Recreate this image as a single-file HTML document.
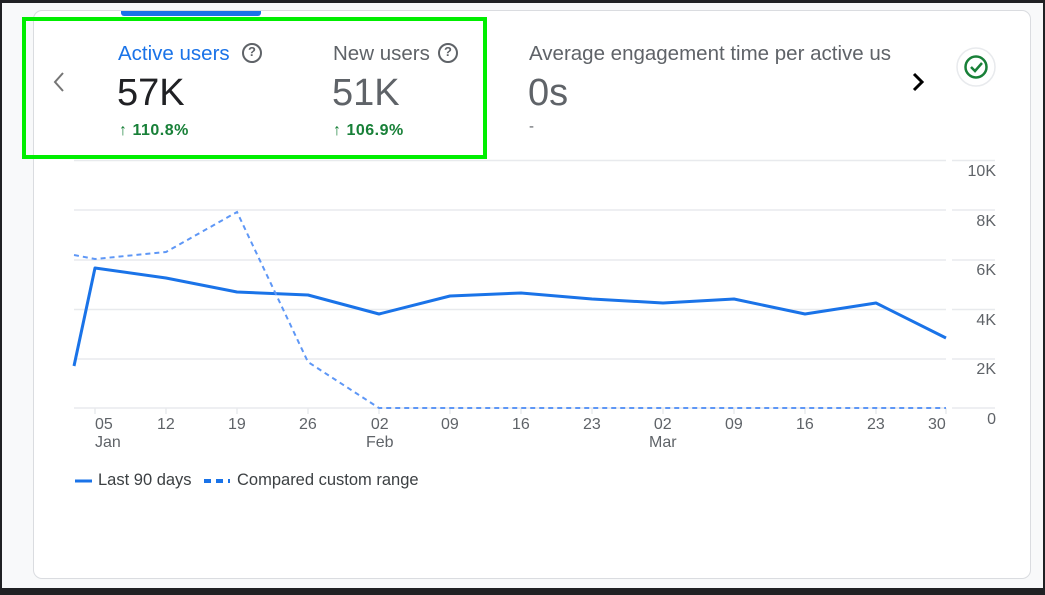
<!DOCTYPE html>
<html><head><meta charset="utf-8"><style>
html,body{margin:0;padding:0;}
body{width:1045px;height:595px;background:#202124;position:relative;overflow:hidden;font-family:"Liberation Sans",sans-serif;}
#bg{position:absolute;left:2px;top:3px;width:1041px;height:585px;background:#f8f9fa;}
#card{position:absolute;left:33px;top:10px;width:996px;height:567px;background:#fff;border:1px solid #dadce0;border-radius:9px;}
.t{position:absolute;white-space:nowrap;}
</style></head><body>
<div id="bg"></div>
<div id="card"></div>
<div style="position:absolute;left:121px;top:11px;width:140px;height:5px;background:#1a73e8;border-radius:0 0 3px 3px"></div>
<svg width="1045" height="595" style="position:absolute;left:0;top:0">
<g stroke="#e8eaed" stroke-width="1.5">
<line x1="74" y1="160.5" x2="946" y2="160.5"/><line x1="952" y1="160.5" x2="995" y2="160.5"/>
<line x1="74" y1="210" x2="946" y2="210"/><line x1="952" y1="210" x2="995" y2="210"/>
<line x1="74" y1="260" x2="946" y2="260"/><line x1="952" y1="260" x2="995" y2="260"/>
<line x1="74" y1="309.5" x2="946" y2="309.5"/><line x1="952" y1="309.5" x2="995" y2="309.5"/>
<line x1="74" y1="359" x2="946" y2="359"/><line x1="952" y1="359" x2="995" y2="359"/>
<line x1="74" y1="408" x2="946" y2="408"/><line x1="952" y1="408" x2="995" y2="408"/>
<line x1="95" y1="408" x2="95" y2="414"/><line x1="166" y1="408" x2="166" y2="414"/><line x1="237" y1="408" x2="237" y2="414"/><line x1="308" y1="408" x2="308" y2="414"/><line x1="379" y1="408" x2="379" y2="414"/><line x1="450" y1="408" x2="450" y2="414"/><line x1="521" y1="408" x2="521" y2="414"/><line x1="592" y1="408" x2="592" y2="414"/><line x1="663" y1="408" x2="663" y2="414"/><line x1="734" y1="408" x2="734" y2="414"/><line x1="805" y1="408" x2="805" y2="414"/><line x1="876" y1="408" x2="876" y2="414"/><line x1="946" y1="408" x2="946" y2="414"/>
</g>
<polyline fill="none" stroke="#1a73e8" stroke-width="3" stroke-linejoin="round" points="74,366 95,268 166,278 237,292 308,295 379,314 450,296 521,293 592,299 663,303 734,299 805,314 876,303 946,338"/>
<polyline fill="none" stroke="#5e97f6" stroke-width="2" stroke-dasharray="5,4" points="74,255 95,259 166,252 237,212 308,362 379,408 946,408"/>
<rect x="24" y="19" width="461" height="138" fill="none" stroke="#00ee00" stroke-width="4"/>
<polyline fill="none" stroke="#757575" stroke-width="2" points="63,73 55,82 63,91"/>
<polyline fill="none" stroke="#000" stroke-width="3" points="914,74 922,82 914,90"/>
<circle cx="976" cy="67" r="19" fill="#fff" stroke="#e8eaed" stroke-width="1.5"/>
<circle cx="976" cy="67" r="10.5" fill="none" stroke="#188038" stroke-width="2.5"/>
<polyline fill="none" stroke="#188038" stroke-width="2.5" points="971,67 975,71 982,63"/>
<g fill="none" stroke="#5f6368" stroke-width="2"><circle cx="252" cy="53" r="9"/><circle cx="448" cy="53" r="9"/></g>
<line x1="75" y1="481" x2="92" y2="481" stroke="#1a73e8" stroke-width="3"/>
<line x1="204" y1="481" x2="230" y2="481" stroke="#1a73e8" stroke-width="4" stroke-dasharray="7,5"/>
</svg>
<div class="t" style="left:246px;top:44px;font-size:13px;font-weight:bold;color:#5f6368;width:12px;text-align:center">?</div>
<div class="t" style="left:442px;top:44px;font-size:13px;font-weight:bold;color:#5f6368;width:12px;text-align:center">?</div>
<div class="t" style="left:118px;top:42px;font-size:20.5px;color:#1a73e8">Active users</div>
<div class="t" style="left:333px;top:42px;font-size:20.5px;color:#5f6368">New users</div>
<div class="t" style="left:529px;top:42px;font-size:20.5px;color:#5f6368">Average engagement time per active us</div>
<div class="t" style="left:117px;top:72px;font-size:38px;color:#202124">57K</div>
<div class="t" style="left:332px;top:72px;font-size:38px;color:#5f6368">51K</div>
<div class="t" style="left:528px;top:72px;font-size:38px;color:#5f6368">0s</div>
<div class="t" style="left:119px;top:122px;font-size:16px;color:#188038;font-weight:bold;letter-spacing:0.5px">↑ 110.8%</div>
<div class="t" style="left:333px;top:122px;font-size:16px;color:#188038;font-weight:bold;letter-spacing:0.5px">↑ 106.9%</div>
<div class="t" style="left:529px;top:118px;font-size:15px;color:#5f6368">-</div>
<div style="position:absolute;left:946px;top:147px;width:50px;text-align:right;font-size:16px;color:#5f6368;line-height:49.5px">10K<br>8K<br>6K<br>4K<br>2K<br>0</div>
<div class="t" style="left:95px;top:416px;font-size:16px;color:#5f6368;line-height:18px">05<br>Jan</div>
<div class="t" style="left:157px;top:416px;font-size:16px;color:#5f6368">12</div>
<div class="t" style="left:228px;top:416px;font-size:16px;color:#5f6368">19</div>
<div class="t" style="left:299px;top:416px;font-size:16px;color:#5f6368">26</div>
<div class="t" style="left:366px;top:416px;font-size:16px;color:#5f6368;line-height:18px;text-align:center">02<br>Feb</div>
<div class="t" style="left:441px;top:416px;font-size:16px;color:#5f6368">09</div>
<div class="t" style="left:512px;top:416px;font-size:16px;color:#5f6368">16</div>
<div class="t" style="left:583px;top:416px;font-size:16px;color:#5f6368">23</div>
<div class="t" style="left:649px;top:416px;font-size:16px;color:#5f6368;line-height:18px;text-align:center">02<br>Mar</div>
<div class="t" style="left:725px;top:416px;font-size:16px;color:#5f6368">09</div>
<div class="t" style="left:796px;top:416px;font-size:16px;color:#5f6368">16</div>
<div class="t" style="left:867px;top:416px;font-size:16px;color:#5f6368">23</div>
<div class="t" style="left:928px;top:416px;font-size:16px;color:#5f6368">30</div>
<div class="t" style="left:98px;top:471px;font-size:16.5px;color:#3c4043">Last 90 days</div>
<div class="t" style="left:237px;top:471px;font-size:16.5px;color:#3c4043">Compared custom range</div>
</body></html>
